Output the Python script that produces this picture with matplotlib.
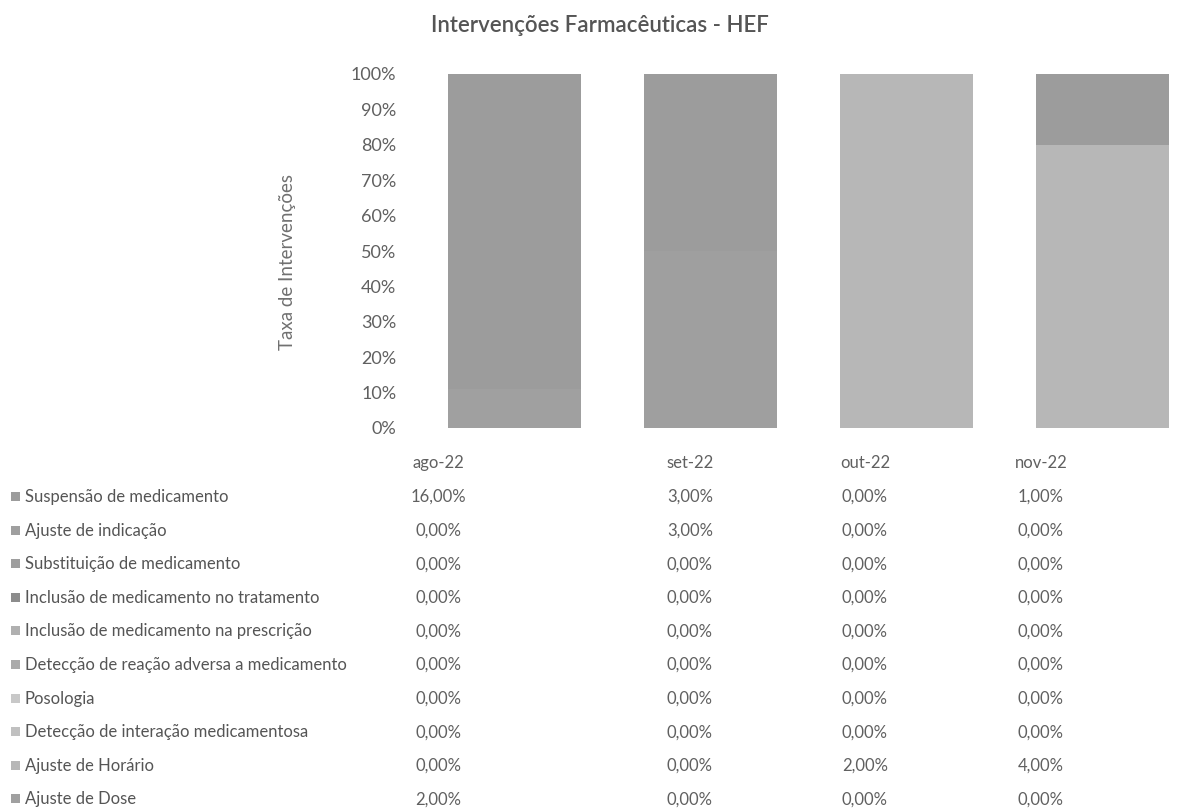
import numpy as np
import matplotlib.pyplot as plt
from matplotlib.patches import Rectangle

plt.rcParams['font.family'] = ['Lato', 'DejaVu Sans']

months = ['ago-22', 'set-22', 'out-22', 'nov-22']
series = ['Suspensão de medicamento', 'Ajuste de indicação', 'Substituição de medicamento',
          'Inclusão de medicamento no tratamento', 'Inclusão de medicamento na prescrição',
          'Detecção de reação adversa a medicamento', 'Posologia',
          'Detecção de interação medicamentosa', 'Ajuste de Horário', 'Ajuste de Dose']
values = [
    [16, 3, 0, 1],
    [0, 3, 0, 0],
    [0, 0, 0, 0],
    [0, 0, 0, 0],
    [0, 0, 0, 0],
    [0, 0, 0, 0],
    [0, 0, 0, 0],
    [0, 0, 0, 0],
    [0, 0, 2, 4],
    [2, 0, 0, 0],
]
colors = ['#9c9c9c', '#9f9f9f', '#9e9e9e', '#8c8c8c', '#b0b0b0',
          '#aaaaaa', '#c8c8c8', '#c0c0c0', '#b7b7b7', '#a0a0a0']

W, H = 1196, 809
fig = plt.figure(figsize=(W / 100, H / 100), dpi=100)
ax = fig.add_axes([417 / W, 1 - 428 / H, (W - 417) / W, (428 - 74) / H])

data = np.array(values, dtype=float)
share = data / data.sum(axis=0)
x = np.arange(len(months))
bottom = np.zeros(len(months))
# last series at the bottom, first on top
for i in range(len(series) - 1, -1, -1):
    ax.bar(x, share[i], 0.68, bottom=bottom, color=colors[i], linewidth=0)
    bottom += share[i]

ax.set_xlim(-0.5, 3.48)
ax.set_ylim(0, 1)
ax.set_yticks(np.arange(0, 1.01, 0.1))
ax.set_yticklabels([f'{int(round(t * 100))}%' for t in np.arange(0, 1.01, 0.1)])
ax.tick_params(axis='y', length=0, pad=15, labelsize=13, labelcolor='#606060')
ax.set_xticks([])
for s in ax.spines.values():
    s.set_visible(False)

fig.text(288 / W, 1 - 262 / H, 'Taxa de Intervenções', rotation=90, ha='center', va='center',
         fontsize=13.5, color='#707070')
fig.text(600 / W, 1 - 25 / H, 'Intervenções Farmacêuticas - HEF', ha='center', va='center',
         fontsize=16, fontweight='semibold', color='#555555')

# data table below the chart
col_x = [438, 690, 865, 1041]
for m, cx in zip(months, col_x):
    fig.text(cx / W, 1 - 463 / H, m, ha='center', va='center', fontsize=12, color='#606060')
row_y0, row_dy = 497, 33.6
for i, name in enumerate(series):
    y = row_y0 + i * row_dy
    fig.patches.append(Rectangle((11 / W, 1 - (y + 4) / H), 9 / W, 9 / H,
                                 transform=fig.transFigure, color=colors[i], linewidth=0))
    fig.text(25 / W, 1 - y / H, name, ha='left', va='center', fontsize=12, color='#555555')
    for j, cx in enumerate(col_x):
        fig.text(cx / W, 1 - y / H, f'{values[i][j]:.2f}%'.replace('.', ','),
                 ha='center', va='center', fontsize=12, color='#606060')

fig.savefig('out.png', dpi=100)
